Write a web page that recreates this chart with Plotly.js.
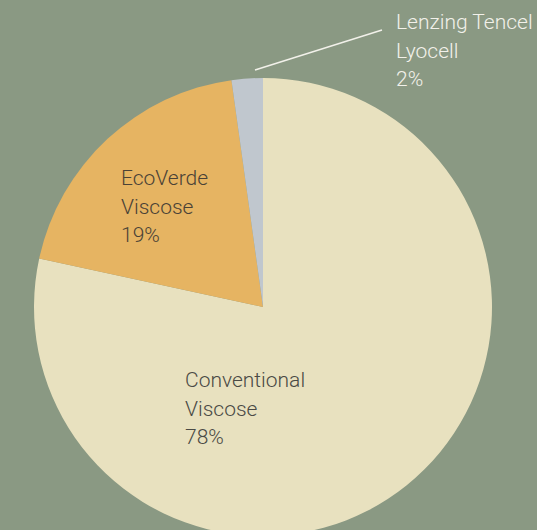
<!DOCTYPE html>
<html>
<head>
<meta charset="utf-8">
<script src="https://cdn.plot.ly/plotly-3.0.1.min.js"></script>
<style>html,body{margin:0;padding:0;overflow:hidden;background:#8A9983;}</style>
</head>
<body>
<div id="chart"></div>
<script>
// Data
var labels = ["Conventional Viscose", "EcoVerde Viscose", "Lenzing Tencel Lyocell"];
var labelLines = [["Conventional", "Viscose"], ["EcoVerde", "Viscose"], ["Lenzing Tencel", "Lyocell"]];
var values = [78.4, 19.4, 2.2];
var colors = ["#E8E1BF", "#E6B462", "#C0C7CE"];

var W = 537, H = 540;
function px(x) { return x / W; }
function py(y) { return 1 - y / H; }

var total = values.reduce(function (a, b) { return a + b; }, 0);
var pct = values.map(function (v) { return Math.round(v / total * 100) + "%"; });

// label placement (pixel anchors of text blocks) and colours
var labelPos = [[183, 366], [119, 164], [394, 8]];
var labelColors = ["#4A4A45", "#4A4236", "#F2F1EA"];
var lineGap = 28.6;

var annotations = [];
labels.forEach(function (name, i) {
  var lines = labelLines[i].concat([pct[i]]);
  lines.forEach(function (t, j) {
    annotations.push({
      text: t, showarrow: false, xref: "paper", yref: "paper",
      x: px(labelPos[i][0]), y: py(labelPos[i][1] + j * lineGap),
      xanchor: "left", yanchor: "top", align: "left",
      font: {family: "Roboto", size: 21, color: labelColors[i], weight: 300}
    });
  });
});

var trace = {
  type: "pie",
  labels: labels,
  values: values,
  sort: false,
  direction: "clockwise",
  rotation: 0,
  textinfo: "none",
  hoverinfo: "label+percent",
  marker: {colors: colors, line: {width: 0}},
  domain: {x: [34 / W, 492 / W], y: [4 / H, 462 / H]},
  showlegend: false
};

var layout = {
  width: W, height: H,
  margin: {l: 0, r: 0, t: 0, b: 0},
  paper_bgcolor: "#8A9983",
  plot_bgcolor: "#8A9983",
  showlegend: false,
  annotations: annotations,
  shapes: [{
    type: "line", xref: "paper", yref: "paper",
    x0: px(255), y0: py(70), x1: px(382), y1: py(30),
    line: {color: "#F2F1EA", width: 1.5}
  }]
};

Plotly.newPlot("chart", [trace], layout, {displayModeBar: false, staticPlot: true});
</script>
</body>
</html>
